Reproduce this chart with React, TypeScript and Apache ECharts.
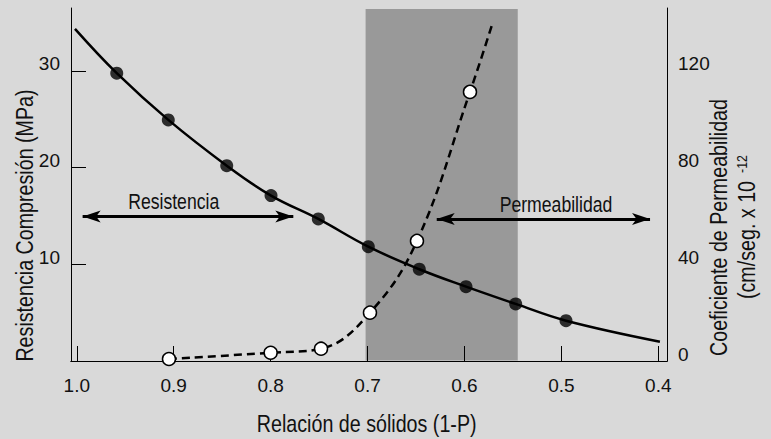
import React, { useEffect, useRef } from 'react';
import * as echarts from 'echarts';

const FONT = "'Liberation Sans', Arial, sans-serif";
const NARROW = 0.82;

const xTicks = [1.0, 0.9, 0.8, 0.7, 0.6, 0.5, 0.4];
const leftTicks = [10, 20, 30];
const rightTicks = [0, 40, 80, 120];

// Resistencia (left axis, MPa) – filled markers
const resistX = [0.9588, 0.9056, 0.8453, 0.7996, 0.7508, 0.6992, 0.6466, 0.5984, 0.5471, 0.4952];
const resistY = [29.76, 24.93, 20.2, 17.1, 14.69, 11.82, 9.49, 7.69, 5.9, 4.17];
const resistCurveStart = [1.0019, 34.34];
const resistCurveEnd = [0.3983, 2.0];

// Permeabilidad (right axis) – hollow markers
const permX = [0.9049, 0.8, 0.748, 0.6975, 0.649, 0.5943];
const permY = [0.83, 3.43, 5.09, 19.99, 49.66, 111.3];
const permCurveEnd = [0.5719, 138.6];

const bandRange = [0.702, 0.545];
const resistArrow = { from: 0.994, to: 0.7766, y: 14.93 };
const permArrow = { from: 0.6286, to: 0.4085, y: 14.69 };

const X_MIN = 0.391;
const X_MAX = 1.006;
const Y_LEFT_MAX = 36.5;
const Y_RIGHT_MAX = 146;

export default function App() {
  const ref = useRef<HTMLDivElement>(null);

  useEffect(() => {
    document.body.style.margin = '0';
    document.body.style.background = '#d9d9d9';
    const chart = echarts.init(ref.current!, null, { renderer: 'svg' });

    const resistPts = resistX.map((x, i) => [x, resistY[i]]);
    const resistCurve = [resistCurveStart, ...resistPts, resistCurveEnd];
    const permPts = permX.map((x, i) => [x, permY[i]]);
    const permCurve = [...permPts, permCurveEnd];

    const txt = '#111';
    const vText = (text: string, x: number, y: number, size: number) => ({
      type: 'text',
      x,
      y,
      rotation: Math.PI / 2,
      scaleX: NARROW,
      z: 10,
      style: { text, fill: txt, font: `${size}px ${FONT}`, align: 'center', verticalAlign: 'middle' },
    });
    const hText = (text: string, x: number, y: number, size: number) => ({
      type: 'text',
      x,
      y,
      scaleX: NARROW,
      z: 10,
      style: { text, fill: txt, font: `${size}px ${FONT}`, align: 'center', verticalAlign: 'middle' },
    });

    const option: any = {
      animation: false,
      backgroundColor: '#d9d9d9',
      textStyle: { fontFamily: FONT },
      grid: { left: 71, top: 8, right: 104, bottom: 78, show: false },
      xAxis: [
        {
          type: 'value',
          inverse: true,
          min: X_MIN,
          max: X_MAX,
          position: 'bottom',
          z: 3,
          axisLine: { show: true, lineStyle: { color: '#000', width: 1 } },
          axisTick: { show: true, inside: true, length: 15, customValues: xTicks, lineStyle: { color: '#000', width: 1 } },
          axisLabel: {
            customValues: xTicks,
            formatter: (v: number) => v.toFixed(1),
            fontSize: 19,
            color: txt,
            margin: 15,
            fontFamily: FONT,
          },
          splitLine: { show: false },
        },
        {
          type: 'value',
          inverse: true,
          min: X_MIN,
          max: X_MAX,
          position: 'top',
          z: 3,
          axisLine: { show: true, lineStyle: { color: '#000', width: 1 } },
          axisTick: { show: false },
          axisLabel: { show: false },
          splitLine: { show: false },
        },
      ],
      yAxis: [
        {
          type: 'value',
          min: 0,
          max: Y_LEFT_MAX,
          position: 'left',
          z: 3,
          axisLine: { show: true, lineStyle: { color: '#000', width: 1 } },
          axisTick: { show: true, inside: true, length: 15, customValues: leftTicks, lineStyle: { color: '#000', width: 1 } },
          axisLabel: {
            customValues: leftTicks,
            fontSize: 19,
            color: txt,
            margin: 11,
            verticalAlign: 'bottom',
            lineHeight: 14,
            fontFamily: FONT,
          },
          splitLine: { show: false },
        },
        {
          type: 'value',
          min: 0,
          max: Y_RIGHT_MAX,
          position: 'right',
          z: 3,
          axisLine: { show: true, lineStyle: { color: '#000', width: 1 } },
          axisTick: { show: false },
          axisLabel: {
            customValues: rightTicks,
            fontSize: 19,
            color: txt,
            margin: 11,
            verticalAlign: 'bottom',
            lineHeight: 14,
            fontFamily: FONT,
          },
          splitLine: { show: false },
        },
      ],
      series: [
        {
          type: 'line',
          name: 'annotations',
          data: [],
          xAxisIndex: 0,
          yAxisIndex: 0,
          silent: true,
          markArea: {
            silent: true,
            z: 1,
            itemStyle: { color: '#999999' },
            data: [[{ xAxis: bandRange[0], yAxis: 0.05 }, { xAxis: bandRange[1], yAxis: Y_LEFT_MAX - 0.1 }]],
          },
          markLine: {
            silent: true,
            z: 4,
            symbol: ['arrow', 'arrow'],
            symbolSize: [9, 18],
            label: { show: false },
            lineStyle: { color: '#000', width: 3, type: 'solid' },
            data: [
              [{ coord: [resistArrow.from, resistArrow.y] }, { coord: [resistArrow.to, resistArrow.y] }],
              [{ coord: [permArrow.from, permArrow.y] }, { coord: [permArrow.to, permArrow.y] }],
            ],
          },
        },
        {
          type: 'line',
          name: 'Resistencia',
          data: resistCurve,
          yAxisIndex: 0,
          smooth: 0.4,
          showSymbol: false,
          z: 5,
          lineStyle: { color: '#000', width: 2.5 },
        },
        {
          type: 'line',
          name: 'Permeabilidad',
          data: permCurve,
          yAxisIndex: 1,
          smooth: 0.4,
          showSymbol: false,
          z: 5,
          lineStyle: { color: '#000', width: 2.5, type: [8, 5] },
        },
        {
          type: 'scatter',
          name: 'Resistencia puntos',
          data: resistPts,
          yAxisIndex: 0,
          symbol: 'circle',
          symbolSize: 13,
          z: 6,
          itemStyle: { color: '#000' },
        },
        {
          type: 'scatter',
          name: 'Permeabilidad puntos',
          data: permPts,
          yAxisIndex: 1,
          symbol: 'circle',
          symbolSize: 13,
          z: 6,
          itemStyle: { color: '#fff', borderColor: '#000', borderWidth: 1.5, opacity: 1 },
        },
      ],
      graphic: [
        vText('Resistencia Compresión (MPa)', 25, 225.5, 24),
        vText('Coeficiente de Permeabilidad', 719, 227.5, 24),
        vText('(cm/seg. x 10', 747, 240, 24),
        vText('-12', 742.5, 164, 15),
        hText('Relación de sólidos (1-P)', 366.7, 423.6, 24),
        hText('Resistencia', 173.7, 201.6, 21.5),
        hText('Permeabilidad', 556, 204.8, 21.5),
      ],
    };

    chart.setOption(option);
    return () => chart.dispose();
  }, []);

  return <div ref={ref} style={{ width: 771, height: 439 }} />;
}
